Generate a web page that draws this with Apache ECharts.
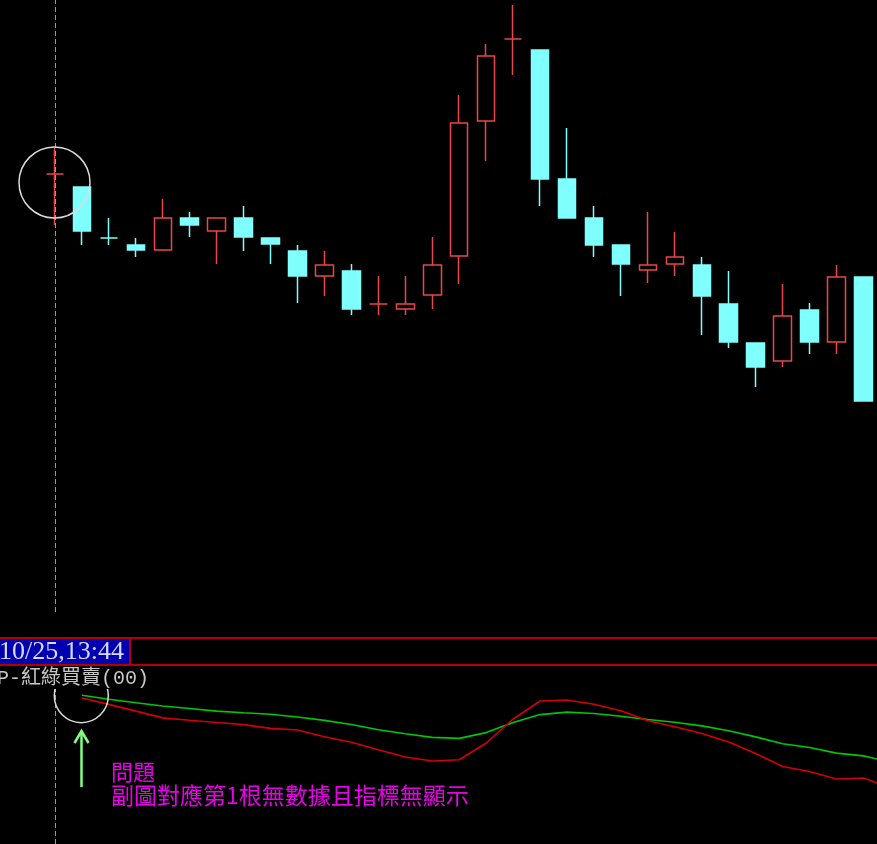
<!DOCTYPE html>
<html><head><meta charset="utf-8">
<script src="https://cdn.jsdelivr.net/npm/echarts/dist/echarts.min.js"></script>
<style>html,body{margin:0;padding:0;background:#000;overflow:hidden}#c{width:877px;height:844px}</style>
</head><body><div id="c"></div>
<script>
// ---- data ----
const categories = ['1','2','3','4','5','6','7','8','9','10','11','12','13','14','15','16',
  '17','18','19','20','21','22','23','24','25','26','27','28','29','30','31','32'];
// [open, close, low, high]
const ohlc = [
  [44.6,44.6,39.5,47.2],[43.3,38.9,37.5,43.3],[38.2,38.2,37.5,40.2],[37.5,37.0,36.3,38.2],
  [37.0,40.2,37.0,42.1],[40.2,39.5,38.3,40.8],[38.9,40.2,35.6,40.2],[40.2,38.3,36.9,41.4],
  [38.2,37.6,35.6,38.2],[36.9,34.4,31.7,37.5],[34.4,35.5,32.4,36.9],[34.9,31.1,30.5,35.6],
  [31.6,31.6,30.5,34.4],[31.1,31.6,30.5,34.4],[32.5,35.5,31.1,38.3],[36.4,49.7,33.6,52.5],
  [49.9,56.4,45.9,57.6],[58.1,58.1,54.5,61.5],[57.0,44.1,41.4,57.0],[44.1,40.2,40.2,49.2],
  [40.2,37.5,36.3,41.4],[37.5,35.6,32.4,37.5],[35.0,35.5,33.7,40.8],[35.6,36.3,34.4,38.8],
  [35.5,32.4,28.5,36.3],[31.6,27.8,27.2,34.9],[27.7,25.3,23.3,27.7],[25.9,30.4,25.3,33.6],
  [31.0,27.8,26.6,31.7],[27.8,34.3,26.6,35.5],[34.3,21.9,21.9,34.3],null
];
const redLine = [null,146,139.6,132.9,126.1,123.7,121.5,119.4,115.6,114,107.2,101.7,94.3,87,83,84.3,
  101,125,143,144,139.8,133.2,123.3,117.3,110.5,102.1,90.5,77.5,72.5,65,66,56];
const greenLine = [null,148.7,144.7,141.2,138.0,135.5,132.9,131.3,129.8,127.0,123.6,119.5,114.3,110.2,106.6,105.6,
  111.4,121.4,129.4,131.9,130.5,127.7,124.5,121.7,118.1,113.3,107.1,100.3,96.5,90.9,88.1,82];
const cursorTime = '10/25,13:44';
const indicatorName = 'P-紅綠買賣(00)';
const noteTitle = '問題';
const noteText = '副圖對應第1根無數據且指標無顯示';

// ---- styles ----
const UP = '#e84848', DOWN = '#80ffff';
const candleData = ohlc.map((d, i) => {
  if (!d) return ['-','-','-','-'];
  if (d[0] === d[1]) {
    const prev = i > 0 && ohlc[i-1] ? ohlc[i-1][1] : null;
    const c = (prev === null || prev <= d[1]) ? UP : DOWN;
    return {value: d, itemStyle: {borderColor: c, borderColor0: c, borderColorDoji: c}};
  }
  return d;
});

const chart = echarts.init(document.getElementById('c'), null, {renderer: 'canvas'});
const xCommon = {type: 'category', data: categories, show: false, boundaryGap: true};
const vline = {
  silent: true, symbol: 'none', animation: false, label: {show: false},
  lineStyle: {color: '#9a9a9a', type: [5, 3], width: 1},
  data: [{xAxis: categories[0]}]
};
chart.setOption({
  backgroundColor: '#000',
  animation: false,
  grid: [
    {left: 41.5, width: 862.4, top: 0, height: 612, outerBoundsMode: 'none', containLabel: false},
    {left: 41.5, width: 862.4, top: 668, height: 176, outerBoundsMode: 'none', containLabel: false}
  ],
  xAxis: [Object.assign({gridIndex: 0}, xCommon), Object.assign({gridIndex: 1}, xCommon)],
  yAxis: [
    {gridIndex: 0, type: 'value', min: 0.8, max: 62, show: false},
    {gridIndex: 1, type: 'value', min: 0, max: 176, show: false}
  ],
  series: [
    {
      type: 'candlestick', xAxisIndex: 0, yAxisIndex: 0, barWidth: 18,
      data: candleData,
      itemStyle: {color: '#000', color0: DOWN, borderColor: UP, borderColor0: DOWN, borderWidth: 1.5},
      emphasis: {disabled: true},
      markLine: vline
    },
    {
      type: 'line', xAxisIndex: 1, yAxisIndex: 1, data: greenLine, showSymbol: false,
      lineStyle: {color: '#00c800', width: 1.6}, itemStyle: {color: '#00c800'},
      markLine: vline, emphasis: {disabled: true}
    },
    {
      type: 'line', xAxisIndex: 1, yAxisIndex: 1, data: redLine, showSymbol: false,
      lineStyle: {color: '#d40000', width: 1.6}, itemStyle: {color: '#d40000'},
      emphasis: {disabled: true}
    }
  ],
  graphic: [
    {type: 'circle', z: 100, shape: {cx: 54.5, cy: 182.5, r: 35.5},
      style: {fill: null, stroke: '#dcdcdc', lineWidth: 1.5}},
    {type: 'line', z: 100, shape: {x1: 0, y1: 638, x2: 877, y2: 638}, style: {stroke: '#b40000', lineWidth: 2}},
    {type: 'line', z: 100, shape: {x1: 0, y1: 665, x2: 877, y2: 665}, style: {stroke: '#b40000', lineWidth: 2}},
    {type: 'rect', z: 101, shape: {x: -2, y: 638, width: 132, height: 27},
      style: {fill: '#0000b0', stroke: '#b40000', lineWidth: 2}},
    {type: 'text', z: 102, x: -1, y: 652,
      style: {text: cursorTime, fill: '#d8d8f8', font: '26px "Liberation Serif"', textAlign: 'left', textVerticalAlign: 'middle'}},
    {type: 'circle', z: 100, shape: {cx: 81.3, cy: 695.7, r: 27},
      style: {fill: null, stroke: '#dcdcdc', lineWidth: 1.5}},
    {type: 'rect', z: 101, shape: {x: 0, y: 667, width: 165, height: 22}, style: {fill: '#000'}},
    {type: 'text', z: 102, x: -3, y: 679,
      style: {text: indicatorName, fill: '#c8c8c8', font: '20px "Liberation Mono", "Noto Sans CJK TC"', textAlign: 'left', textVerticalAlign: 'middle'}},
    {type: 'line', z: 100, shape: {x1: 81.5, y1: 731, x2: 81.5, y2: 787}, style: {stroke: '#80ff80', lineWidth: 2.5}},
    {type: 'polyline', z: 100, shape: {points: [[74.5, 743], [81.5, 731], [88.5, 743]]},
      style: {stroke: '#80ff80', lineWidth: 2.5, fill: null}},
    {type: 'text', z: 102, x: 111, y: 771.5,
      style: {text: noteTitle, fill: '#e800e8', font: '22px "Noto Sans CJK TC"', textAlign: 'left', textVerticalAlign: 'middle'}},
    {type: 'text', z: 102, x: 111, y: 795.5,
      style: {text: noteText, fill: '#e800e8', font: '23px "Noto Sans CJK TC"', textAlign: 'left', textVerticalAlign: 'middle'}}
  ]
});
</script></body></html>
